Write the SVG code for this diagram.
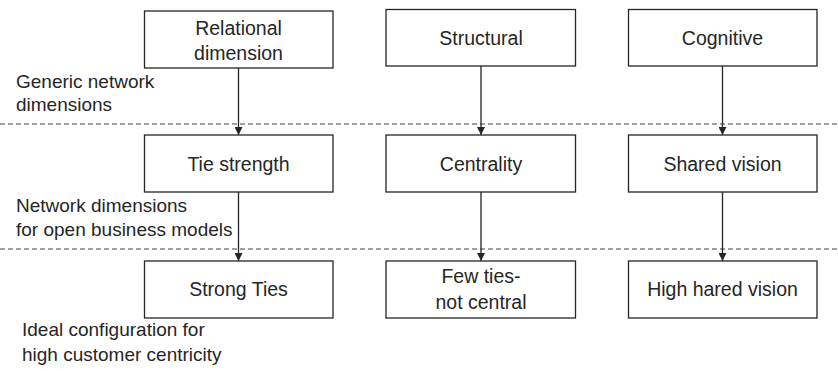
<svg xmlns="http://www.w3.org/2000/svg" width="838" height="371" viewBox="0 0 838 371">
<style>
.box{fill:#fff;stroke:#262626;stroke-width:1.3}
.t{font-family:"Liberation Sans",Arial,sans-serif;font-size:19.5px;fill:#262626;text-anchor:middle}
.l{font-family:"Liberation Sans",Arial,sans-serif;font-size:19px;fill:#262626}
.dash{stroke:#404040;stroke-width:1.2;stroke-dasharray:5,3;fill:none}
.c{stroke:#262626;stroke-width:1.3;fill:none;marker-end:url(#ah)}
</style>
<defs>
<marker id="ah" viewBox="0 0 10 10" refX="10" refY="5" markerWidth="8" markerHeight="8" markerUnits="userSpaceOnUse" orient="auto">
<path d="M0,0 L10,5 L0,10 Z" fill="#262626"/>
</marker>
</defs>
<rect width="838" height="371" fill="#fff"/>
<g id="separators">
<line class="dash" x1="0" y1="124" x2="838" y2="124"/>
<line class="dash" x1="0" y1="249" x2="838" y2="249"/>
</g>
<g id="labels">
<text class="l" x="16" y="88">Generic network</text>
<text class="l" x="16" y="111">dimensions</text>
<text class="l" x="16" y="212">Network dimensions</text>
<text class="l" x="16" y="236">for open business models</text>
<text class="l" x="22" y="336">Ideal configuration for</text>
<text class="l" x="22" y="361">high customer centricity</text>
</g>
<g id="connectors">
<line class="c" x1="238.5" y1="68" x2="238.5" y2="135"/>
<line class="c" x1="481" y1="66" x2="481" y2="135"/>
<line class="c" x1="722.5" y1="66" x2="722.5" y2="135"/>
<line class="c" x1="238.5" y1="192" x2="238.5" y2="261"/>
<line class="c" x1="481" y1="192" x2="481" y2="261"/>
<line class="c" x1="722.5" y1="192" x2="722.5" y2="261"/>
</g>
<g id="relational">
<rect class="box" x="144.5" y="11" width="188.5" height="57"/>
<text class="t" x="238.5" y="35">Relational</text>
<text class="t" x="238.5" y="60">dimension</text>
</g>
<g id="structural">
<rect class="box" x="386" y="9.5" width="189.5" height="56.5"/>
<text class="t" x="481" y="45">Structural</text>
</g>
<g id="cognitive">
<rect class="box" x="628.5" y="9.5" width="188.5" height="56.5"/>
<text class="t" x="722.5" y="45">Cognitive</text>
</g>
<g id="tie-strength">
<rect class="box" x="144.5" y="135" width="188.5" height="57"/>
<text class="t" x="238.5" y="171">Tie strength</text>
</g>
<g id="centrality">
<rect class="box" x="386" y="135" width="189.5" height="57"/>
<text class="t" x="481" y="171">Centrality</text>
</g>
<g id="shared-vision">
<rect class="box" x="628.5" y="135" width="188.5" height="57"/>
<text class="t" x="722.5" y="171">Shared vision</text>
</g>
<g id="strong-ties">
<rect class="box" x="144.5" y="261" width="188.5" height="57"/>
<text class="t" x="238.5" y="296">Strong Ties</text>
</g>
<g id="few-ties">
<rect class="box" x="386" y="261" width="189.5" height="57"/>
<text class="t" x="481" y="283">Few ties-</text>
<text class="t" x="481" y="309">not central</text>
</g>
<g id="high-shared-vision">
<rect class="box" x="628.5" y="261" width="188.5" height="57"/>
<text class="t" x="722.5" y="296">High hared vision</text>
</g>
</svg>
